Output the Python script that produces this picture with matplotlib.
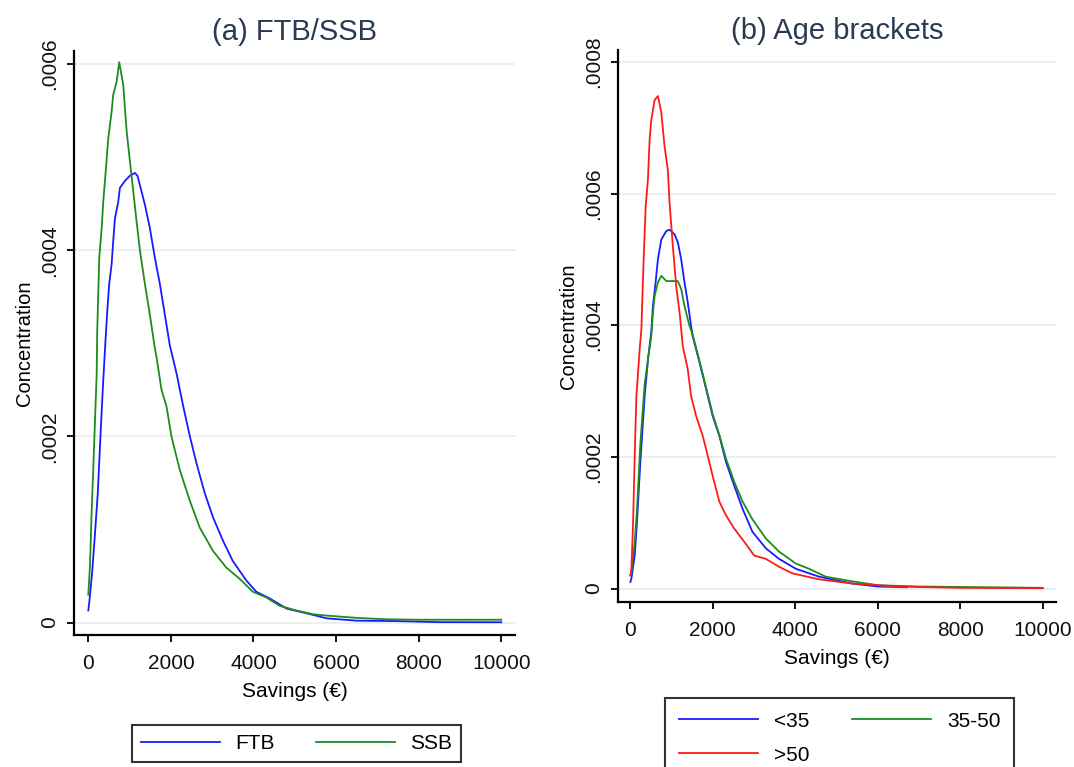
import matplotlib.pyplot as plt
import numpy as np

plt.rcParams['font.family'] = ['Liberation Sans', 'DejaVu Sans']

# ---- panel (a): FTB / SSB ----
ftb_x = [0, 20, 90, 150, 230, 290, 350, 410, 460, 507, 565, 604, 645, 725, 766, 880,
         1007, 1128, 1190, 1249, 1370, 1490, 1611, 1732, 1853, 1973, 2140, 2300, 2460,
         2620, 2820, 3020, 3260, 3500, 3830, 4070, 4390, 4800, 5280, 5770, 6500, 7500,
         8500, 10000]
ftb_y = [0.13, 0.20, 0.52, 0.88, 1.39, 1.96, 2.50, 2.98, 3.35, 3.64, 3.85, 4.10, 4.34,
         4.52, 4.67, 4.74, 4.80, 4.83, 4.80, 4.70, 4.49, 4.24, 3.92, 3.64, 3.31, 2.98,
         2.67, 2.32, 2.00, 1.71, 1.39, 1.13, 0.88, 0.66, 0.45, 0.33, 0.26, 0.15, 0.10,
         0.045, 0.02, 0.015, 0.004, 0.003]

ssb_x = [0, 40, 82, 121, 203, 217, 266, 324, 362, 428, 483, 565, 604, 686, 749, 845,
         928, 1007, 1087, 1169, 1249, 1370, 1490, 1611, 1652, 1773, 1894, 2014, 2215,
         2457, 2698, 3019, 3343, 3664, 3986, 4309, 4630, 5034, 5428, 5758, 6500, 7200,
         8000, 10000]
ssb_y = [0.30, 0.60, 1.20, 1.66, 2.67, 3.14, 3.92, 4.24, 4.52, 4.88, 5.20, 5.49, 5.67,
         5.81, 6.02, 5.78, 5.28, 4.96, 4.64, 4.31, 4.00, 3.64, 3.31, 2.95, 2.85, 2.50,
         2.32, 2.00, 1.64, 1.31, 1.02, 0.77, 0.59, 0.47, 0.33, 0.27, 0.18, 0.13, 0.09,
         0.075, 0.05, 0.035, 0.03, 0.03]

# ---- panel (b): age brackets ----
young_x = [0, 24, 104, 160, 241, 345, 430, 507, 546, 611, 667, 749, 870, 949, 1070,
           1150, 1232, 1312, 1391, 1473, 1512, 1674, 1836, 1995, 2157, 2319, 2519, 2720,
           2961, 3285, 3606, 4010, 4572, 5370, 6000, 6700]
young_y = [0.10, 0.15, 0.50, 1.02, 1.92, 2.92, 3.50, 3.90, 4.29, 4.65, 5.00, 5.30, 5.43,
           5.45, 5.38, 5.26, 5.00, 4.65, 4.35, 3.98, 3.83, 3.44, 3.03, 2.62, 2.32, 1.92,
           1.56, 1.21, 0.86, 0.61, 0.45, 0.30, 0.18, 0.076, 0.03, 0.02]

mid_x = [0, 24, 104, 160, 241, 345, 430, 507, 546, 587, 667, 749, 870, 1150, 1232,
         1312, 1432, 1512, 1674, 1836, 1995, 2157, 2319, 2519, 2720, 2961, 3285, 3606,
         4010, 4331, 4734, 5370, 6000, 7000, 10000]
mid_y = [0.20, 0.25, 0.70, 1.20, 2.20, 3.10, 3.50, 3.84, 4.19, 4.44, 4.65, 4.75, 4.67,
         4.67, 4.55, 4.29, 3.99, 3.85, 3.46, 3.05, 2.65, 2.33, 1.97, 1.62, 1.32, 1.05,
         0.76, 0.56, 0.38, 0.30, 0.18, 0.11, 0.05, 0.03, 0.01]

old_x = [0, 24, 63, 104, 145, 225, 266, 321, 370, 425, 466, 507, 587, 667, 749, 829,
         908, 949, 1029, 1111, 1191, 1271, 1391, 1473, 1594, 1754, 1874, 1995, 2157,
         2319, 2519, 2761, 3002, 3285, 3606, 3928, 4572, 5370, 6500, 8000, 10000]
old_y = [0.20, 0.30, 0.95, 2.02, 2.92, 3.64, 3.94, 5.00, 5.80, 6.21, 6.82, 7.12, 7.42,
         7.48, 7.23, 6.71, 6.36, 5.86, 5.20, 4.59, 4.20, 3.68, 3.33, 2.92, 2.62, 2.32,
         2.02, 1.71, 1.32, 1.11, 0.91, 0.71, 0.50, 0.45, 0.33, 0.23, 0.14, 0.076, 0.03,
         0.01, 0.005]

x_ticks = [0, 2000, 4000, 6000, 8000, 10000]
title_col = '#2a3a55'
grid_col = '#e4eef0'
blue, green, red = '#1a1aff', '#1e8c1e', '#ff1a1a'

fig = plt.figure(figsize=(10.74, 7.67), dpi=100)
axA = fig.add_axes([74/1074, 1-635/767, (515-74)/1074, (635-51)/767])
axB = fig.add_axes([618/1074, 1-602/767, (1056-618)/1074, (602-50)/767])


def style(ax, yticks, ylabels, title):
    ax.set_yticks(yticks)
    ax.set_yticklabels(ylabels, rotation=90, va='center')
    ax.set_xticks(x_ticks)
    ax.grid(axis='y', color=grid_col, lw=1.2)
    ax.set_axisbelow(True)
    for s in ['top', 'right']:
        ax.spines[s].set_visible(False)
    for s in ['left', 'bottom']:
        ax.spines[s].set_linewidth(1.6)
    ax.tick_params(axis='both', length=5, width=1.4, labelsize=15, colors='#111111')
    ax.tick_params(axis='y', pad=6)
    ax.tick_params(axis='x', pad=9)
    ax.set_xlabel('Savings (€)', fontsize=15, labelpad=6)
    ax.set_ylabel('Concentration', fontsize=14.5, labelpad=4)
    ax.set_title(title, fontsize=21, color=title_col, pad=8)


l1, = axA.plot(ftb_x, np.array(ftb_y) * 1e-4, color=blue, lw=1.3, label='FTB')
l2, = axA.plot(ssb_x, np.array(ssb_y) * 1e-4, color=green, lw=1.3, label='SSB')
axA.set_xlim(-346, 10332)
axA.set_ylim(-0.0000134, 0.000614)
style(axA, [0, 0.0002, 0.0004, 0.0006], ['0', '.0002', '.0004', '.0006'], '(a) FTB/SSB')

m1, = axB.plot(young_x, np.array(young_y) * 1e-4, color=blue, lw=1.3, label='<35')
m2, = axB.plot(mid_x, np.array(mid_y) * 1e-4, color=green, lw=1.3, label='35-50')
m3, = axB.plot(old_x, np.array(old_y) * 1e-4, color=red, lw=1.3, label='>50')
axB.set_xlim(-301, 10322)
axB.set_ylim(-0.0000205, 0.000818)
style(axB, [0, 0.0002, 0.0004, 0.0006, 0.0008],
      ['0', '.0002', '.0004', '.0006', '.0008'], '(b) Age brackets')

legA = fig.legend(handles=[l1, l2], ncol=2, loc='center',
                  bbox_to_anchor=(296.5/1074, 1-743.5/767), fontsize=15, frameon=True,
                  fancybox=False, edgecolor='black', handlelength=3.8,
                  handletextpad=0.7, columnspacing=2.0, borderpad=0.45,
                  borderaxespad=0)
legA.get_frame().set_linewidth(1.5)

# the right legend runs past the bottom edge, as in the original
legB = fig.legend(handles=[m1, m3, m2], ncol=2, loc='upper left',
                  bbox_to_anchor=(665/1074, 1-698/767), fontsize=15, frameon=True,
                  fancybox=False, edgecolor='black', handlelength=3.8,
                  handletextpad=0.8, columnspacing=2.0, borderpad=0.65,
                  labelspacing=0.72, borderaxespad=0)
legB.get_frame().set_linewidth(1.5)

fig.savefig('out.png', dpi=100)
